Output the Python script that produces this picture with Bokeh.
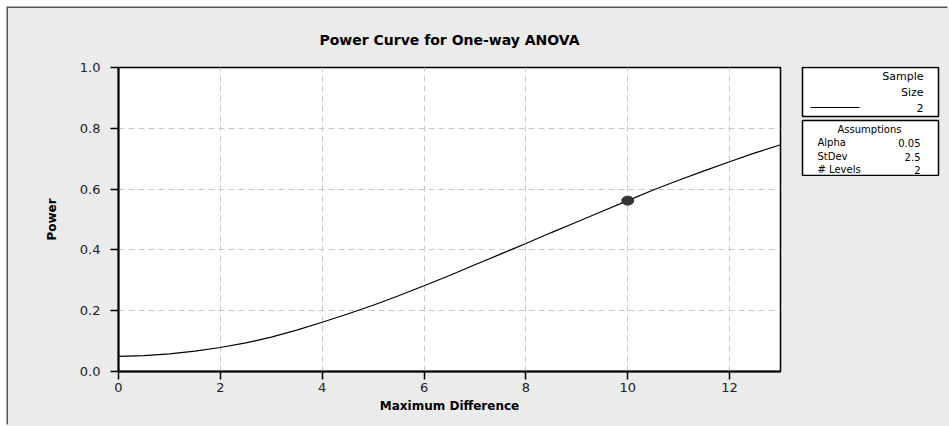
from bokeh.plotting import figure
from bokeh.models import Range1d, FixedTicker, PrintfTickFormatter
from bokeh.core.properties import value
from bokeh.embed import file_html
from bokeh.resources import INLINE

# ---- data ----
max_diff = [0, 0.5, 1, 1.5, 2, 2.5, 3, 3.5, 4, 4.5, 5, 5.5, 6, 6.5, 7, 7.5,
            8, 8.5, 9, 9.5, 10, 10.5, 11, 11.5, 12, 12.5, 13]
power = [0.050, 0.052, 0.058, 0.067, 0.079, 0.094, 0.113, 0.136, 0.162, 0.189,
         0.218, 0.249, 0.282, 0.316, 0.351, 0.386, 0.421, 0.457, 0.492, 0.527,
         0.562, 0.597, 0.629, 0.660, 0.690, 0.719, 0.746]
point_x = [10]
point_y = [0.562]
x_ticks = [0, 2, 4, 6, 8, 10, 12]
y_ticks = [0.0, 0.2, 0.4, 0.6, 0.8, 1.0]
legend_header = ["Sample", "Size"]
sample_size = ["2"]
assumptions_title = ["Assumptions"]
assumption_names = ["Alpha", "StDev", "# Levels"]
assumption_values = ["0.05", "2.5", "2"]

FONT = "DejaVu Sans"
BG = "#ebebeb"
EDGE = "#555555"

p = figure(width=941, height=418, output_backend="svg", toolbar_location=None,
           x_range=Range1d(0, 13), y_range=Range1d(0, 1),
           min_border_left=110, min_border_right=169, min_border_top=59,
           min_border_bottom=55, title="Power Curve for One-way ANOVA",
           styles={"position": "absolute", "left": "8px", "top": "8px",
                   "z-index": "0", "background-color": BG,
                   "box-shadow": f"-1.5px -1.5px 0 0 {EDGE}"})
p.border_fill_color = BG
p.background_fill_color = "white"
p.outline_line_color = "black"
p.outline_line_width = 1.5

p.title.align = "center"
p.title.text_font = FONT
p.title.text_font_size = "14px"
p.title.text_font_style = "bold"
p.title.text_color = "black"
p.title.standoff = 40

for ax in (p.xaxis[0], p.yaxis[0]):
    ax.axis_line_width = 2
    ax.axis_line_color = "black"
    ax.major_tick_line_color = "black"
    ax.major_tick_line_width = 1.5
    ax.major_tick_out = 8
    ax.major_tick_in = 0
    ax.minor_tick_line_color = None
    ax.major_label_text_font = FONT
    ax.major_label_text_font_size = "13px"
    ax.major_label_text_color = "#222222"
    ax.axis_label_text_font = FONT
    ax.axis_label_text_font_style = "bold"
    ax.axis_label_text_font_size = "12px"
    ax.axis_label_text_color = "black"

p.xaxis.ticker = FixedTicker(ticks=x_ticks)
p.yaxis.ticker = FixedTicker(ticks=y_ticks)
p.yaxis.formatter = PrintfTickFormatter(format="%.1f")
p.xaxis.axis_label = "Maximum Difference"
p.yaxis.axis_label = "Power"
p.xaxis.major_label_standoff = 3
p.xaxis.axis_label_standoff = 4
p.yaxis.major_label_standoff = 10
p.yaxis.axis_label_standoff = 18

for g in (p.xgrid[0], p.ygrid[0]):
    g.grid_line_color = "#c8c8c8"
    g.grid_line_dash = "6 4"
    g.grid_line_width = 1

p.line(max_diff, power, line_color="black", line_width=1.2)
p.ellipse(point_x, point_y, width=12, height=9, width_units="screen",
          height_units="screen", fill_color="#333333", line_color="#333333")

# ---- legend panel: a second canvas laid over the right margin ----
q = figure(width=145, height=110, output_backend="svg", toolbar_location=None,
           x_range=Range1d(0, 145), y_range=Range1d(170, 60),
           x_axis_type=None, y_axis_type=None,
           min_border_left=0, min_border_right=0, min_border_top=0,
           min_border_bottom=0,
           styles={"position": "absolute", "left": "800px", "top": "66px",
                   "z-index": "5", "background-color": BG})
q.border_fill_color = BG
q.background_fill_color = BG
q.outline_line_color = None
q.xgrid.visible = False
q.ygrid.visible = False

q.quad(left=[2, 2], right=[138, 138], top=[61, 114], bottom=[110, 169],
       fill_color="white", line_color="black", line_width=1.5)
q.line([10, 59], [101, 101], line_color="black", line_width=1)

common = dict(text_baseline="middle", text_font=value(FONT), text_color="black")
q.text([123, 123], [70, 86], text=legend_header, text_align="right",
       text_font_size="11px", **common)
q.text([123], [101], text=sample_size, text_align="right",
       text_font_size="11px", **common)
q.text([69], [123], text=assumptions_title, text_align="center",
       text_font_size="10px", **common)
q.text([17, 17, 17], [136, 150, 163], text=assumption_names, text_align="left",
       text_font_size="10px", **common)
q.text([120, 120, 120], [136, 150, 163], text=assumption_values,
       text_align="right", text_font_size="10px", **common)

open("out.html", "w").write(file_html([p, q], INLINE))
